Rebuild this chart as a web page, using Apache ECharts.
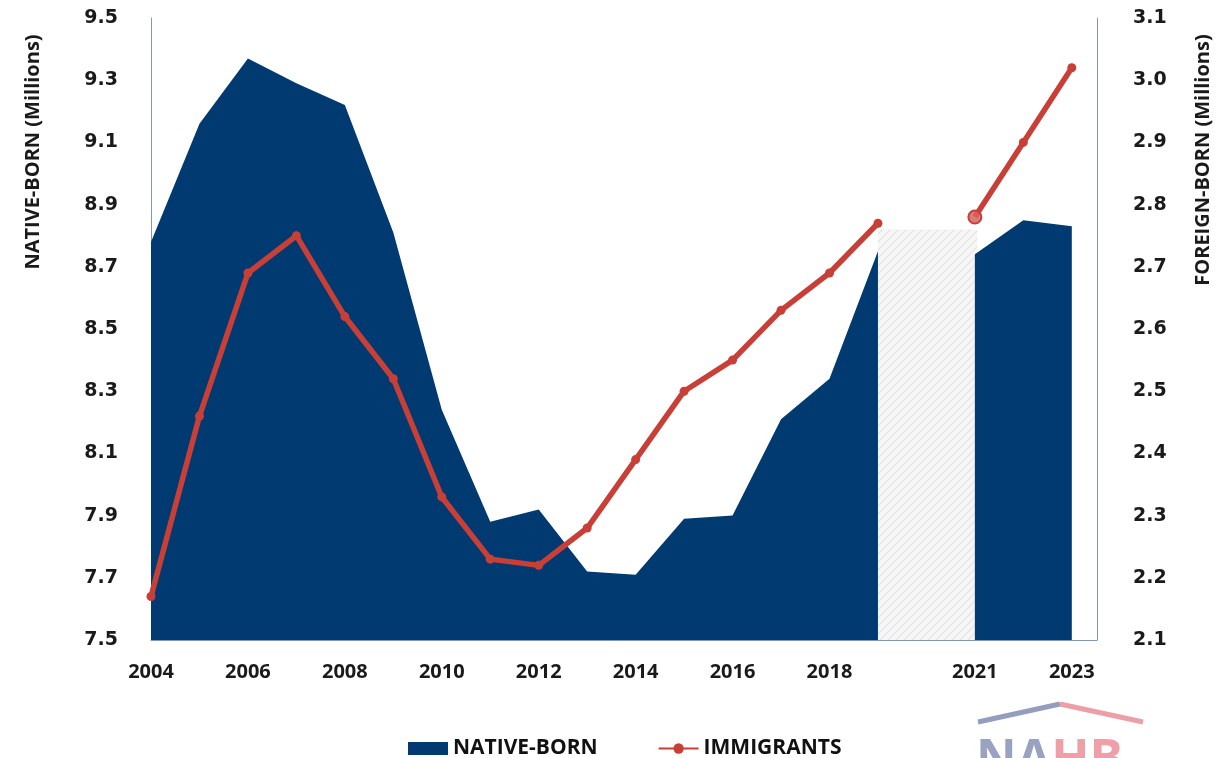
<!DOCTYPE html>
<html>
<head>
<meta charset="utf-8">
<script src="https://cdn.jsdelivr.net/npm/echarts@6/dist/echarts.min.js"></script>
<style>
html,body{margin:0;padding:0;background:#fff;}
#chart{width:1227px;height:758px;}
</style>
</head>
<body>
<div id="chart"></div>
<script>
// ---- data ----
const years = [2004,2005,2006,2007,2008,2009,2010,2011,2012,2013,2014,2015,2016,2017,2018,2019,2020,2021,2022,2023];
const nativeBorn = [8.78,9.16,9.37,9.29,9.22,8.81,8.24,7.88,7.92,7.72,7.71,7.89,7.90,8.21,8.34,8.75,null,8.74,8.85,8.83];
const immigrants = [2.17,2.46,2.69,2.75,2.62,2.52,2.33,2.23,2.22,2.28,2.39,2.50,2.55,2.63,2.69,2.77,null,2.78,2.90,3.02];
const xTickLabels = [2004,2006,2008,2010,2012,2014,2016,2018,2021,2023];
const leftTicks = {min:7.5, max:9.5, interval:0.2};
const rightTicks = {min:2.1, max:3.1, interval:0.1};
const gapYears = [2019.0, 2021.05];
const gapTop = 8.82;
const highlightYear = 2021;

// hatch pattern
const pc = document.createElement('canvas');
pc.width = 8; pc.height = 8;
const g = pc.getContext('2d');
g.fillStyle = '#f6f6f6'; g.fillRect(0,0,8,8);
g.strokeStyle = '#e3e3e3'; g.lineWidth = 1.2;
g.beginPath();
g.moveTo(0,8); g.lineTo(8,0);
g.moveTo(-4,4); g.lineTo(4,-4);
g.moveTo(4,12); g.lineTo(12,4);
g.stroke();

const NAVY = '#003A70';
const RED = '#C83F37';
const AXIS = '#8597b8';

const areaData = years.map((y,i)=>[y, nativeBorn[i]]);
const lineData = years.map((y,i)=>{
  if (y === highlightYear) {
    return {value:[y, immigrants[i]], symbolSize:13, itemStyle:{color:'rgba(214,100,95,0.85)', borderColor:RED, borderWidth:2}};
  }
  return [y, immigrants[i]];
});

const chart = echarts.init(document.getElementById('chart'));
chart.setOption({
  animation:false,
  backgroundColor:'#fff',
  grid:{left:151, right:130, top:18, bottom:118},
  xAxis:{
    type:'value', min:2004, max:2023.52, interval:1,
    axisLine:{show:true, onZero:false, lineStyle:{color:AXIS, width:1}},
    axisTick:{show:false}, splitLine:{show:false},
    axisLabel:{
      margin:22, color:'#1a1a1a', fontFamily:'Open Sans', fontWeight:'bold', fontSize:20,
      formatter:v=> xTickLabels.indexOf(Math.round(v))>=0 && Math.abs(v-Math.round(v))<1e-6 ? String(Math.round(v)) : ''
    }
  },
  yAxis:[
    {type:'value', min:leftTicks.min, max:leftTicks.max, interval:leftTicks.interval,
     axisLine:{show:true, lineStyle:{color:AXIS, width:1}}, axisTick:{show:false}, splitLine:{show:false},
     axisLabel:{margin:33, color:'#1a1a1a', fontFamily:'DejaVu Sans', fontWeight:'bold', fontSize:19, formatter:v=>v.toFixed(1)}},
    {type:'value', min:rightTicks.min, max:rightTicks.max, interval:rightTicks.interval, position:'right',
     axisLine:{show:true, lineStyle:{color:AXIS, width:1}}, axisTick:{show:false}, splitLine:{show:false},
     axisLabel:{margin:36, color:'#1a1a1a', fontFamily:'DejaVu Sans', fontWeight:'bold', fontSize:19, formatter:v=>v.toFixed(1)}}
  ],
  legend:{
    left:403, top:733, itemWidth:40, itemHeight:13, itemGap:60,
    textStyle:{color:'#111', fontFamily:'Open Sans', fontWeight:'bold', fontSize:21},
    data:[{name:'NATIVE-BORN', icon:'rect'}, {name:'IMMIGRANTS'}]
  },
  series:[
    {name:'NATIVE-BORN', type:'line', yAxisIndex:0, data:areaData, showSymbol:false, symbol:'none',
     lineStyle:{width:0, color:NAVY}, itemStyle:{color:NAVY}, areaStyle:{color:NAVY, opacity:1}, z:1,
     markArea:{silent:true, itemStyle:{color:{image:pc, repeat:'repeat'}},
       data:[[{coord:[gapYears[0], leftTicks.min]}, {coord:[gapYears[1], gapTop]}]]}},
    {name:'IMMIGRANTS', type:'line', yAxisIndex:1, data:lineData, symbol:'circle', symbolSize:9,
     lineStyle:{width:5.5, color:RED}, itemStyle:{color:RED}, z:3}
  ],
  graphic:[
    {type:'text', x:33, y:152, rotation:Math.PI/2,
     style:{text:'NATIVE-BORN (Millions)', fill:'#1a1a1a', font:'bold 20px "Open Sans"', align:'center', verticalAlign:'middle'}},
    {type:'text', x:1203, y:160, rotation:Math.PI/2,
     style:{text:'FOREIGN-BORN (Millions)', fill:'#1a1a1a', font:'bold 20px "Open Sans"', align:'center', verticalAlign:'middle'}},
    {type:'polyline', shape:{points:[[978,722],[1060,704]]}, style:{stroke:'#959dbd', lineWidth:5}},
    {type:'polyline', shape:{points:[[1060,704],[1143,722]]}, style:{stroke:'#ec9fa7', lineWidth:5}},
    {type:'text', x:976, y:736,
     style:{text:'{a|NA}{b|HB}', rich:{a:{fill:'#9aa2c2', font:'bold 50px "Open Sans"'}, b:{fill:'#ee9fa7', font:'bold 50px "Open Sans"'}}, verticalAlign:'top'}}
  ]
});
</script>
</body>
</html>
